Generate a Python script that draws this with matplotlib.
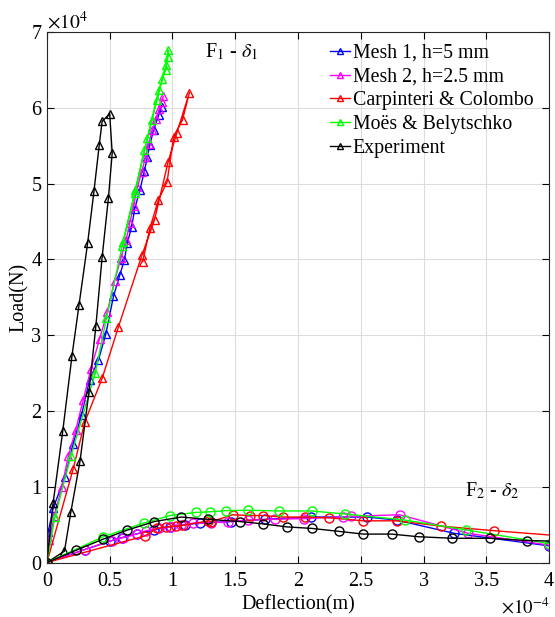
import matplotlib
matplotlib.use("Agg")
import matplotlib.pyplot as plt

plt.rcParams['font.family'] = ['Liberation Serif', 'DejaVu Serif']
plt.rcParams['mathtext.fontset'] = 'stix'

# ---------------- F1 - delta1 curves (x in 1e-4 m, y in 1e4 N) ----------------
mesh1_f1_x = [0, 0.01, 0.05, 0.145, 0.21, 0.276, 0.34, 0.41, 0.47, 0.53, 0.58, 0.617, 0.64, 0.675,
              0.70, 0.74, 0.776, 0.80, 0.82, 0.85, 0.89, 0.913]
mesh1_f1_y = [0, 0.40, 0.72, 1.13, 1.57, 1.95, 2.41, 2.67, 3.02, 3.51, 3.79, 3.99, 4.21, 4.43,
              4.67, 4.91, 5.16, 5.35, 5.51, 5.71, 5.90, 6.01]
mesh2_f1_x = [0, 0.02, 0.06, 0.12, 0.17, 0.23, 0.29, 0.35, 0.42, 0.48, 0.54, 0.59, 0.63, 0.66,
              0.69, 0.72, 0.755, 0.785, 0.81, 0.84, 0.87, 0.895, 0.915, 0.927]
mesh2_f1_y = [0, 0.30, 0.62, 1.00, 1.40, 1.75, 2.15, 2.55, 2.95, 3.30, 3.72, 4.02, 4.25, 4.48,
              4.70, 4.95, 5.15, 5.35, 5.52, 5.70, 5.85, 5.98, 6.08, 6.15]
carp_f1_x = [0, 0.21, 0.303, 0.44, 0.57, 0.758, 0.857, 0.966, 1.035, 1.135,
             1.08, 1.01, 0.957, 0.887, 0.82, 0.763]
carp_f1_y = [0, 1.24, 1.86, 2.43, 3.11, 4.06, 4.52, 5.29, 5.67, 6.20,
             5.84, 5.62, 5.02, 4.78, 4.41, 3.97]
moes_f1_x = [0, 0.064, 0.19, 0.385, 0.474, 0.607, 0.705, 0.776, 0.838, 0.877, 0.92, 0.95, 0.966,
             0.965, 0.945, 0.89, 0.80, 0.70, 0.60]
moes_f1_y = [0, 0.60, 1.40, 2.50, 3.22, 4.23, 4.91, 5.44, 5.84, 6.10, 6.38, 6.56, 6.76,
             6.67, 6.50, 6.23, 5.60, 4.88, 4.18]
exp_f1_x = [0, 0.05, 0.126, 0.20, 0.256, 0.325, 0.375, 0.417, 0.44, 0.50, 0.52, 0.49, 0.44,
            0.39, 0.335, 0.264, 0.19, 0.14, 0]
exp_f1_y = [0, 0.79, 1.73, 2.73, 3.40, 4.22, 4.90, 5.51, 5.82, 5.92, 5.40, 4.81, 4.03,
            3.12, 2.25, 1.34, 0.66, 0.15, 0]

# ---------------- F2 - delta2 curves ----------------
mesh1_f2_x = [0, 0.3, 0.5, 0.6, 0.72, 0.85, 0.98, 1.1, 1.22, 1.31, 1.47, 1.74, 2.10, 2.55, 2.785, 3.245, 4.0]
mesh1_f2_y = [0, 0.17, 0.28, 0.33, 0.38, 0.43, 0.47, 0.50, 0.52, 0.53, 0.54, 0.57, 0.60, 0.60, 0.56, 0.385, 0.22]
mesh2_f2_x = [0, 0.3, 0.515, 0.61, 0.715, 0.79, 0.89, 0.99, 1.07, 1.165, 1.31, 1.445, 1.60, 1.815,
              2.05, 2.36, 2.42, 2.81, 3.355, 4.0]
mesh2_f2_y = [0, 0.17, 0.29, 0.33, 0.375, 0.42, 0.45, 0.47, 0.49, 0.52, 0.525, 0.54, 0.56, 0.57,
              0.58, 0.60, 0.61, 0.63, 0.385, 0.23]
carp_f2_x = [0, 0.78, 0.875, 0.95, 1.03, 1.085, 1.285, 1.31, 1.48, 1.615, 1.72, 1.88, 2.055, 2.25,
             2.52, 2.785, 3.14, 3.56, 4.1]
carp_f2_y = [0, 0.35, 0.45, 0.47, 0.48, 0.49, 0.55, 0.54, 0.63, 0.62, 0.62, 0.60, 0.60, 0.59,
             0.55, 0.55, 0.48, 0.42, 0.35]
moes_f2_x = [0, 0.45, 0.77, 0.98, 1.185, 1.30, 1.43, 1.60, 1.85, 2.11, 2.375, 2.85, 3.34, 4.0]
moes_f2_y = [0, 0.34, 0.52, 0.62, 0.66, 0.67, 0.685, 0.69, 0.68, 0.68, 0.64, 0.56, 0.43, 0.25]
exp_f2_x = [0, 0.23, 0.45, 0.635, 0.855, 1.07, 1.28, 1.54, 1.72, 1.91, 2.11, 2.33, 2.52, 2.745,
            2.96, 3.23, 3.53, 3.82, 4.1]
exp_f2_y = [0, 0.16, 0.31, 0.425, 0.54, 0.60, 0.57, 0.54, 0.51, 0.47, 0.45, 0.41, 0.375, 0.375,
            0.34, 0.32, 0.32, 0.29, 0.28]

labels = ['Mesh 1, h=5 mm', 'Mesh 2, h=2.5 mm', 'Carpinteri & Colombo', 'Moës & Belytschko', 'Experiment']
colors = ['#0000ff', '#ff00ff', '#ff0000', '#00ff00', '#000000']
f1_data = [(mesh1_f1_x, mesh1_f1_y), (mesh2_f1_x, mesh2_f1_y), (carp_f1_x, carp_f1_y),
           (moes_f1_x, moes_f1_y), (exp_f1_x, exp_f1_y)]
f2_data = [(mesh1_f2_x, mesh1_f2_y), (mesh2_f2_x, mesh2_f2_y), (carp_f2_x, carp_f2_y),
           (moes_f2_x, moes_f2_y), (exp_f2_x, exp_f2_y)]

xticks = [0, 0.5, 1, 1.5, 2, 2.5, 3, 3.5, 4]
xticklabels = ['0', '0.5', '1', '1.5', '2', '2.5', '3', '3.5', '4']
yticks = [0, 1, 2, 3, 4, 5, 6, 7]

fig = plt.figure(figsize=(5.55, 6.17), dpi=100)
ax = fig.add_axes([0.0845, 0.0883, 0.905, 0.86])

handles = []
for (x, y), c, lab in zip(f1_data, colors, labels):
    h, = ax.plot(x, y, color=c, lw=1.0, marker='^', ms=6, mfc='none', mec=c, mew=1.0, label=lab)
    handles.append(h)
for (x, y), c in zip(f2_data, colors):
    ax.plot(x, y, color=c, lw=1.0, marker='o', ms=6.5, mfc='none', mec=c, mew=1.0)

ax.set_xlim(0, 4)
ax.set_ylim(0, 7)
ax.set_xticks(xticks)
ax.set_xticklabels(xticklabels)
ax.set_yticks(yticks)
ax.tick_params(direction='in', top=True, right=True, labelsize=14.5, length=5, width=0.8)
ax.tick_params(axis='x', pad=6.5)
ax.tick_params(axis='y', pad=4)
ax.grid(True, color='#dcdcdc', lw=0.8)
ax.set_axisbelow(True)
for s in ax.spines.values():
    s.set_linewidth(0.8)
    s.set_color('#262626')

ax.set_xlabel('Deflection(m)', fontsize=14.5, labelpad=3)
ax.set_ylabel('Load(N)', fontsize=14.5, labelpad=2)

ax.text(0.0, 0.998, r'$\times10^{4}$', transform=ax.transAxes, fontsize=14, ha='left', va='bottom')
ax.text(1.0, -0.066, r'$\times10^{-4}$', transform=ax.transAxes, fontsize=13.5, ha='right', va='top')

ax.text(1.26, 6.67, r'F$_1$ - $\delta_1$', fontsize=14.5, va='baseline')
ax.text(3.33, 0.88, r'F$_2$ - $\delta_2$', fontsize=14.5, va='baseline')

leg = ax.legend(handles=handles, loc='upper left', bbox_to_anchor=(0.54, 1.0), frameon=False,
                fontsize=14.3, handlelength=1.0, handletextpad=0.15, labelspacing=0.24, borderaxespad=0.2,
                markerscale=0.8)

fig.savefig('out.png', dpi=100)
